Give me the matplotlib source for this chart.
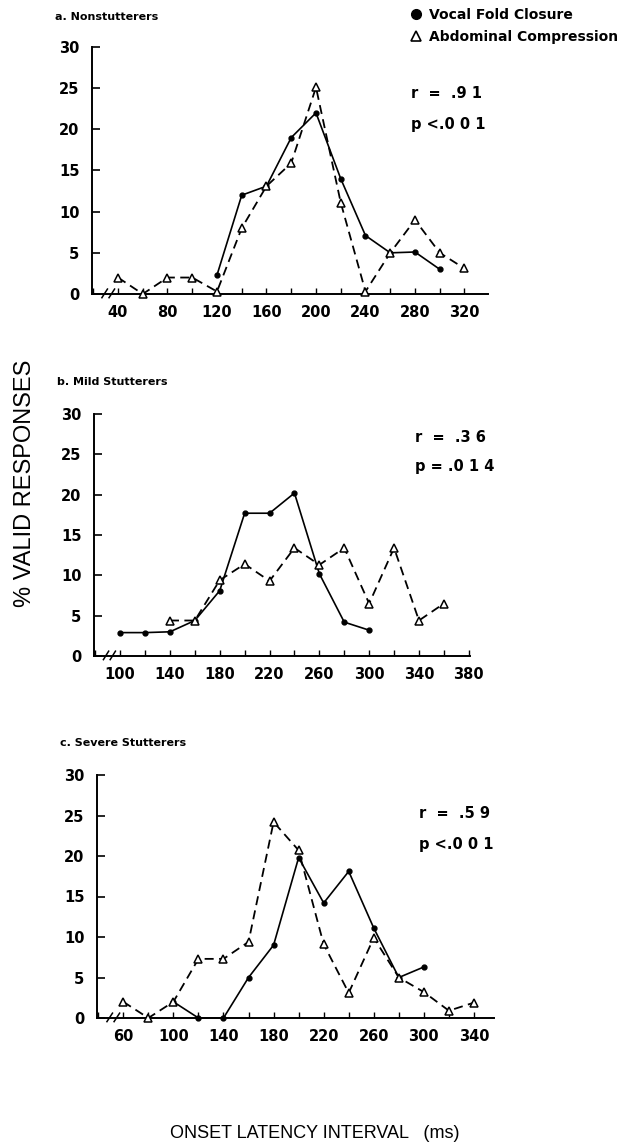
import matplotlib
matplotlib.use("Agg")
import matplotlib.pyplot as plt
from matplotlib.lines import Line2D

plt.rcParams['font.family'] = ['DejaVu Sans']

# ---------------- data ----------------
# Panel a: Nonstutterers
a_vocal_x = [120, 140, 160, 180, 200, 220, 240, 260, 280, 300]
a_vocal_y = [2.3, 12.0, 13.1, 19.0, 22.0, 14.0, 7.1, 5.0, 5.1, 3.0]
a_abd_x = [40, 60, 80, 100, 120, 140, 160, 180, 200, 220, 240, 260, 280, 300, 320]
a_abd_y = [2.0, 0.0, 2.0, 2.0, 0.3, 8.0, 13.1, 15.9, 25.1, 11.1, 0.3, 5.0, 9.0, 5.0, 3.1]
a_ticks = [40, 80, 120, 160, 200, 240, 280, 320]

# Panel b: Mild Stutterers
b_vocal_x = [100, 120, 140, 160, 180, 200, 220, 240, 260, 280, 300]
b_vocal_y = [2.9, 2.9, 3.0, 4.4, 8.1, 17.7, 17.7, 20.2, 10.2, 4.2, 3.2]
b_abd_x = [140, 160, 180, 200, 220, 240, 260, 280, 300, 320, 340, 360]
b_abd_y = [4.4, 4.4, 9.4, 11.4, 9.3, 13.4, 11.3, 13.4, 6.5, 13.4, 4.4, 6.5]
b_ticks = [100, 140, 180, 220, 260, 300, 340, 380]

# Panel c: Severe Stutterers
c_vocal_x = [100, 120, 140, 160, 180, 200, 220, 240, 260, 280, 300]
c_vocal_y = [2.0, 0.0, 0.0, 5.0, 9.0, 19.8, 14.2, 18.1, 11.1, 5.0, 6.3]
c_abd_x = [60, 80, 100, 120, 140, 160, 180, 200, 220, 240, 260, 280, 300, 320, 340]
c_abd_y = [2.0, 0.0, 2.0, 7.3, 7.3, 9.4, 24.2, 20.7, 9.1, 3.1, 9.9, 5.0, 3.2, 0.9, 1.9]
c_ticks = [60, 100, 140, 180, 220, 260, 300, 340]

y_ticks = [0, 5, 10, 15, 20, 25, 30]

panels = [
    dict(title="a. Nonstutterers", vx=a_vocal_x, vy=a_vocal_y, ax_=a_abd_x, ay=a_abd_y,
         ticks=a_ticks, xlim=(19, 339), r="r  =  .9 1", p="p <.0 0 1",
         box=(92, 47, 488, 294), titley=17, titlex=55, ry=93, py=125, rx=411),
    dict(title="b. Mild Stutterers", vx=b_vocal_x, vy=b_vocal_y, ax_=b_abd_x, ay=b_abd_y,
         ticks=b_ticks, xlim=(79, 381), r="r  =  .3 6", p="p = .0 1 4",
         box=(94, 414, 470, 656), titley=382, titlex=57, ry=437, py=467, rx=415),
    dict(title="c. Severe Stutterers", vx=c_vocal_x, vy=c_vocal_y, ax_=c_abd_x, ay=c_abd_y,
         ticks=c_ticks, xlim=(39, 356), r="r  =  .5 9", p="p <.0 0 1",
         box=(97, 775, 494, 1018), titley=743, titlex=60, ry=813, py=844, rx=419),
]

W, H = 631, 1142
fig = plt.figure(figsize=(W / 100, H / 100), dpi=100)

for P in panels:
    l, t, r_, b = P['box']
    ax = fig.add_axes([l / W, 1 - b / H, (r_ - l) / W, (b - t) / H])
    ax.plot(P['vx'], P['vy'], '-', color='black', lw=1.2, marker='o', ms=3.5,
            mfc='black', mec='black', zorder=3, clip_on=False)
    ax.plot(P['ax_'], P['ay'], '--', color='black', lw=1.3, dashes=(5, 3), marker='^',
            ms=5.5, mfc='white', mec='black', mew=1.1, zorder=4, clip_on=False)
    ax.set_xlim(*P['xlim'])
    ax.set_ylim(0, 30)
    ax.set_yticks(y_ticks)
    ax.set_xticks(P['ticks'])
    minor = list(range(P['ticks'][0] - 20, P['ticks'][-1] + 1, 20))
    minor = [m for m in minor if P['xlim'][0] < m <= P['xlim'][1]]
    ax.set_xticks(minor, minor=True)
    ax.tick_params(axis='y', direction='in', length=6, width=1.2, labelsize=10.5, pad=9)
    ax.tick_params(axis='x', which='both', direction='in', length=4, width=1.0,
                   labelsize=10.5, pad=8)
    for lab in ax.get_xticklabels() + ax.get_yticklabels():
        lab.set_fontweight('bold')
    for s in ['top', 'right']:
        ax.spines[s].set_visible(False)
    ax.spines['left'].set_linewidth(1.4)
    ax.spines['bottom'].set_linewidth(1.4)
    # axis break marks
    x0 = 0.025
    for dx in (0.0, 0.018):
        ax.plot([x0 + dx, x0 + dx + 0.014], [-0.015, 0.02], transform=ax.transAxes,
                color='black', lw=1.1, clip_on=False)
    fig.text(P['titlex'] / W, 1 - P['titley'] / H, P['title'], fontsize=8,
             fontweight='bold', ha='left', va='center')
    fig.text(P['rx'] / W, 1 - P['ry'] / H, P['r'], fontsize=10.5, fontweight='bold',
             ha='left', va='center')
    fig.text(P['rx'] / W, 1 - P['py'] / H, P['p'], fontsize=10.5, fontweight='bold',
             ha='left', va='center')

handles = [
    Line2D([], [], ls='none', marker='o', ms=7, mfc='black', mec='black'),
    Line2D([], [], ls='none', marker='^', ms=7, mfc='white', mec='black', mew=1.2),
]
fig.legend(handles, ["Vocal Fold Closure", "Abdominal Compression"],
           loc='upper left', bbox_to_anchor=(409 / W, 1 - 8 / H), frameon=False,
           prop=dict(size=10, weight='bold'), handlelength=1.0, handletextpad=0.45,
           labelspacing=0.6, borderaxespad=0, borderpad=0)

fig.text(25 / W, 1 - 483 / H, "% VALID RESPONSES", rotation=90, fontsize=17,
         family='Liberation Sans', ha='center', va='center')
fig.text(315 / W, 1 - 1133 / H, "ONSET LATENCY INTERVAL   (ms)", fontsize=13,
         family='Liberation Sans', ha='center', va='center')

fig.savefig("out.png", dpi=100)
